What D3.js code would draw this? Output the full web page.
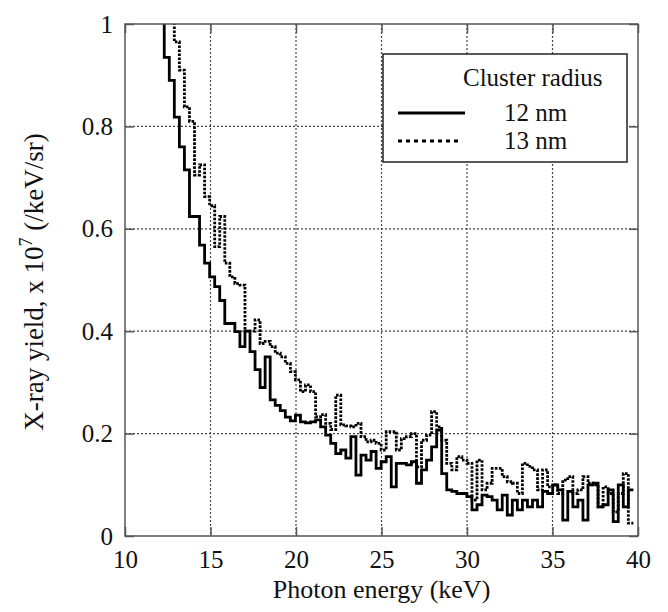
<!DOCTYPE html>
<html>
<head>
<meta charset="utf-8">
<script src="https://cdn.jsdelivr.net/npm/d3@7"></script>
<style>
  svg text, svg tspan { font-family: "Liberation Serif", serif !important; }
</style>
</head>
<body style="margin:0">
<div id="wrapper"></div>
<script>
// energy channels: first bin starts at 12 keV, each bin 0.295 keV wide
const binStart = 12.0
const binWidth = 0.295

// x-ray yield (x 1e7 /keV/sr), cluster radius 12 nm
const yield12 = [
  1.1, 0.935, 0.89, 0.818, 0.76, 0.715, 0.624, 0.624, 0.568, 0.533,
  0.506, 0.487, 0.46, 0.415, 0.415, 0.399, 0.37, 0.40, 0.36, 0.325,
  0.29, 0.35, 0.266, 0.255, 0.245, 0.232, 0.225, 0.236, 0.223, 0.221,
  0.223, 0.227, 0.213, 0.197, 0.181, 0.161, 0.168, 0.152, 0.194, 0.119,
  0.158, 0.148, 0.165, 0.132, 0.145, 0.155, 0.096, 0.142, 0.142, 0.139,
  0.145, 0.103, 0.129, 0.148, 0.174, 0.207, 0.122, 0.09, 0.087, 0.083,
  0.083, 0.077, 0.051, 0.061, 0.08, 0.077, 0.07, 0.051, 0.08, 0.041,
  0.07, 0.051, 0.07, 0.057, 0.07, 0.057, 0.087, 0.083, 0.1, 0.09,
  0.031, 0.087, 0.057, 0.07, 0.031, 0.1, 0.103, 0.057, 0.061, 0.09,
  0.028, 0.1, 0.057, 0.09
]

// cluster radius 13 nm
const yield13 = [
  1.2, 1.1, 1.05, 0.965, 0.91, 0.838, 0.81, 0.705, 0.725, 0.663,
  0.645, 0.565, 0.624, 0.533, 0.506, 0.493, 0.49, 0.40, 0.40, 0.422,
  0.376, 0.38, 0.37, 0.357, 0.35, 0.337, 0.321, 0.305, 0.282, 0.295,
  0.282, 0.233, 0.237, 0.22, 0.208, 0.275, 0.217, 0.215, 0.213, 0.22,
  0.194, 0.184, 0.187, 0.181, 0.168, 0.204, 0.204, 0.168, 0.19, 0.194,
  0.2, 0.135, 0.187, 0.197, 0.243, 0.213, 0.187, 0.142, 0.129, 0.155,
  0.148, 0.142, 0.07, 0.148, 0.09, 0.103, 0.132, 0.132, 0.116, 0.106,
  0.103, 0.083, 0.142, 0.136, 0.129, 0.09, 0.129, 0.096, 0.1, 0.083,
  0.109, 0.116, 0.083, 0.09, 0.116, 0.103, 0.1, 0.057, 0.096, 0.083,
  0.047, 0.083, 0.122, 0.025
]

const xTicks = [10, 15, 20, 25, 30, 35, 40]
const yTicks = [0, 0.2, 0.4, 0.6, 0.8, 1]
const yTickLabels = ["0", "0.2", "0.4", "0.6", "0.8", "1"]
const legendLabels = ["12 nm", "13 nm"]

const fontName = "Liberation Serif"

let dimensions = {
  width: 668,
  height: 612,
  margins: { top: 24, right: 30, bottom: 76, left: 125 }
}
dimensions.boundedWidth = dimensions.width
  - dimensions.margins.left
  - dimensions.margins.right
dimensions.boundedHeight = dimensions.height
  - dimensions.margins.top
  - dimensions.margins.bottom

const wrapper = d3.select("#wrapper")
  .append("svg")
    .attr("width", dimensions.width)
    .attr("height", dimensions.height)

const bounds = wrapper.append("g")
  .attr("transform", `translate(${dimensions.margins.left},${dimensions.margins.top})`)

const xScale = d3.scaleLinear()
  .domain([10, 40])
  .range([0, dimensions.boundedWidth])

const yScale = d3.scaleLinear()
  .domain([0, 1])
  .range([dimensions.boundedHeight, 0])

// grid
const gridColor = "#444"
bounds.append("g")
  .selectAll("line")
  .data(xTicks.slice(1, -1))
  .join("line")
    .attr("x1", d => xScale(d))
    .attr("x2", d => xScale(d))
    .attr("y1", 0)
    .attr("y2", dimensions.boundedHeight)
    .attr("stroke", gridColor)
    .attr("stroke-width", 1.2)
    .attr("stroke-dasharray", "2,2")

bounds.append("g")
  .selectAll("line")
  .data(yTicks.slice(1, -1))
  .join("line")
    .attr("x1", 0)
    .attr("x2", dimensions.boundedWidth)
    .attr("y1", d => yScale(d))
    .attr("y2", d => yScale(d))
    .attr("stroke", gridColor)
    .attr("stroke-width", 1.2)
    .attr("stroke-dasharray", "2,2")

// data
wrapper.append("defs").append("clipPath")
  .attr("id", "plot-clip")
  .append("rect")
    .attr("width", dimensions.boundedWidth)
    .attr("height", dimensions.boundedHeight)

const toSteps = values => {
  const pts = values.map((v, i) => [binStart + i * binWidth, v])
  pts.push([binStart + values.length * binWidth, values[values.length - 1]])
  return pts
}

const lineGenerator = d3.line()
  .x(d => xScale(d[0]))
  .y(d => yScale(d[1]))
  .curve(d3.curveStepAfter)

const plot = bounds.append("g").attr("clip-path", "url(#plot-clip)")

plot.append("path")
  .attr("d", lineGenerator(toSteps(yield13)))
  .attr("fill", "none")
  .attr("stroke", "#000")
  .attr("stroke-width", 2.8)
  .attr("stroke-dasharray", "2.6,1.4")

plot.append("path")
  .attr("d", lineGenerator(toSteps(yield12)))
  .attr("fill", "none")
  .attr("stroke", "#000")
  .attr("stroke-width", 2.8)

// frame + inward ticks on all four sides
const frameColor = "#555"
const tickLen = 9
bounds.append("rect")
  .attr("width", dimensions.boundedWidth)
  .attr("height", dimensions.boundedHeight)
  .attr("fill", "none")
  .attr("stroke", frameColor)
  .attr("stroke-width", 1.5)

const xAxisGenerator = d3.axisBottom(xScale)
  .tickValues(xTicks)
  .tickSize(-tickLen)
  .tickPadding(14)
const xAxis = bounds.append("g")
  .attr("transform", `translate(0,${dimensions.boundedHeight})`)
  .call(xAxisGenerator)
const xAxisTop = bounds.append("g")
  .call(d3.axisTop(xScale).tickValues(xTicks).tickSize(-tickLen).tickFormat(""))

const yAxisGenerator = d3.axisLeft(yScale)
  .tickValues(yTicks)
  .tickSize(-tickLen)
  .tickPadding(12)
  .tickFormat((d, i) => yTickLabels[i])
const yAxis = bounds.append("g")
  .call(yAxisGenerator)
const yAxisRight = bounds.append("g")
  .attr("transform", `translate(${dimensions.boundedWidth},0)`)
  .call(d3.axisRight(yScale).tickValues(yTicks).tickSize(-tickLen).tickFormat(""))

;[xAxis, xAxisTop, yAxis, yAxisRight].forEach(a => {
  a.attr("font-family", fontName).attr("font-size", 25)
  a.select(".domain").remove()
  a.selectAll(".tick line").attr("stroke", frameColor).attr("stroke-width", 1.5)
  a.selectAll("text")
    .attr("fill", "#111")
    .style("font-family", fontName, "important")
})

// axis titles
bounds.append("text")
  .attr("x", dimensions.boundedWidth / 2)
  .attr("y", dimensions.boundedHeight + 62)
  .attr("text-anchor", "middle")
  .style("font-family", fontName, "important")
  .attr("font-size", 26)
  .attr("fill", "#111")
  .text("Photon energy (keV)")

const yLabel = wrapper.append("text")
  .attr("transform", `translate(43,${dimensions.margins.top + dimensions.boundedHeight / 2 + 2}) rotate(-90)`)
  .attr("text-anchor", "middle")
  .style("font-family", fontName, "important")
  .attr("font-size", 27)
  .attr("fill", "#111")
yLabel.append("tspan").text("X-ray yield, x 10")
yLabel.append("tspan").attr("dy", -11).attr("font-size", 18).text("7")
yLabel.append("tspan").attr("dy", 11).text(" (/keV/sr)")

// legend
const legend = wrapper.append("g")
legend.append("rect")
  .attr("x", 383)
  .attr("y", 54)
  .attr("width", 244)
  .attr("height", 108)
  .attr("fill", "#fff")
  .attr("stroke", "#222")
  .attr("stroke-width", 1.5)

legend.append("text")
  .attr("x", 463)
  .attr("y", 86)
  .style("font-family", fontName, "important")
  .attr("font-size", 25)
  .attr("fill", "#111")
  .text("Cluster radius")

legendLabels.forEach((label, i) => {
  const y = 113 + i * 28
  legend.append("line")
    .attr("x1", 398)
    .attr("x2", i === 0 ? 465 : 460)
    .attr("y1", y)
    .attr("y2", y)
    .attr("stroke", "#000")
    .attr("stroke-width", i === 0 ? 2.8 : 2.8)
    .attr("stroke-dasharray", i === 0 ? null : "4,4")
  legend.append("text")
    .attr("x", 504)
    .attr("y", y + 8)
    .style("font-family", fontName, "important")
    .attr("font-size", 25)
    .attr("fill", "#111")
    .text(label)
})
</script>
</body>
</html>
